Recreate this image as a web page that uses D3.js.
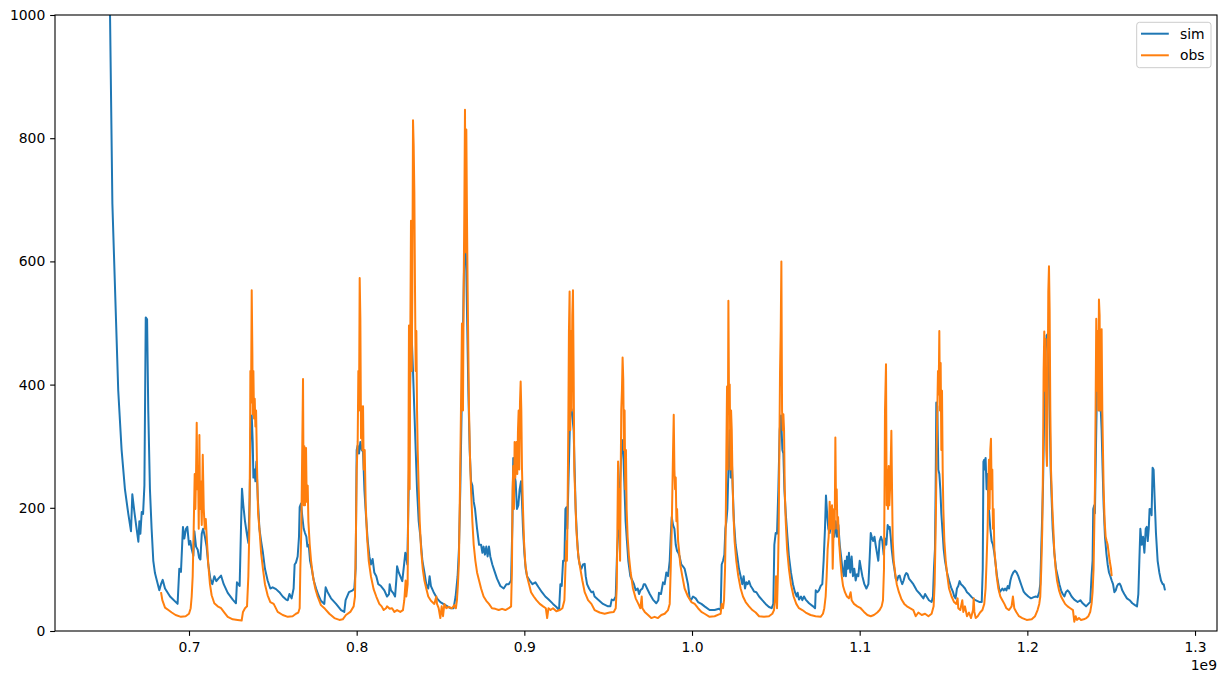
<!DOCTYPE html>
<html><head><meta charset="utf-8">
<script src="https://cdn.jsdelivr.net/npm/d3@7"></script>
<style>html,body{margin:0;padding:0;background:#fff;}svg{display:block;font-family:"DejaVu Sans",sans-serif;}</style>
</head><body><svg id="c" width="1227" height="683"></svg>
<script>
// time in units of 1e9 seconds, value
const sim = [
[0.6516,1300],[0.6529,1000],[0.6543,694],[0.6565,502],[0.6578,390],[0.6598,294],[0.6618,230],[0.6638,190],[0.6654,162],[0.6662,222],[0.6674,194],[0.6686,169],[0.6698,145],[0.6704,178],[0.6710,158],[0.6718,193],[0.6726,190],[0.6734,236],[0.6742,509],[0.6750,506],[0.6757,358],[0.6767,230],[0.6777,166],[0.6787,114],[0.6797,94],[0.6809,81],[0.6823,66],[0.6833,76],[0.6843,83],[0.6857,69],[0.6887,56],[0.6932,44],[0.6942,101],[0.6952,96],[0.6964,169],[0.6972,150],[0.6982,166],[0.6990,169],[0.7000,140],[0.7008,146],[0.7016,133],[0.7026,122],[0.7032,162],[0.7042,137],[0.7052,132],[0.7060,119],[0.7068,116],[0.7076,158],[0.7084,166],[0.7095,153],[0.7105,137],[0.7115,108],[0.7127,85],[0.7139,76],[0.7151,89],[0.7163,81],[0.7175,85],[0.7191,90],
[0.7207,76],[0.7231,62],[0.7261,51],[0.7280,45],[0.7286,79],[0.7294,76],[0.7302,73],[0.7310,166],[0.7316,231],[0.7324,204],[0.7334,178],[0.7346,156],[0.7354,143],[0.7362,217],[0.7368,326],[0.7374,350],[0.7380,307],[0.7384,249],[0.7390,262],[0.7396,243],[0.7402,275],[0.7410,217],[0.7420,166],[0.7430,146],[0.7441,127],[0.7453,101],[0.7469,82],[0.7485,69],[0.7499,71],[0.7519,68],[0.7539,63],[0.7559,56],[0.7579,51],[0.7589,50],[0.7599,60],[0.7612,53],[0.7624,69],[0.7630,108],[0.7638,111],[0.7648,121],[0.7656,153],[0.7660,201],[0.7668,207],[0.7676,185],[0.7684,166],[0.7692,159],[0.7700,153],[0.7706,137],[0.7714,140],[0.7722,114],[0.7732,101],[0.7744,82],[0.7758,69],[0.7772,58],[0.7787,49],[0.7807,44],[0.7815,71],[0.7827,63],[0.7847,53],[0.7877,44],[0.7907,34],[0.7926,31],[0.7934,50],[0.7954,63],[0.7976,66],[0.7986,69],[0.7994,101],[0.8000,294],[0.8006,301],[0.8014,288],[0.8022,307],[0.8030,294],[0.8038,291],[0.8046,230],[0.8056,185],[0.8066,146],[0.8076,121],[0.8085,108],[0.8095,117],[0.8105,95],[0.8117,89],[0.8129,76],[0.8145,73],[0.8165,66],[0.8181,56],
[0.8193,60],[0.8197,76],[0.8205,66],[0.8217,62],[0.8229,56],[0.8237,85],[0.8241,105],[0.8251,95],[0.8260,89],[0.8272,81],[0.8284,111],[0.8290,127],[0.8296,119],[0.8302,108],[0.8308,198],[0.8312,262],[0.8316,358],[0.8320,422],[0.8326,493],[0.8336,422],[0.8344,358],[0.8352,294],[0.8360,230],[0.8370,178],[0.8380,153],[0.8392,114],[0.8404,95],[0.8415,76],[0.8427,69],[0.8435,89],[0.8443,73],[0.8459,63],[0.8479,53],[0.8499,47],[0.8529,42],[0.8559,37],[0.8578,37],[0.8590,56],[0.8602,89],[0.8610,133],[0.8618,230],[0.8626,358],[0.8634,487],[0.8642,615],[0.8648,641],[0.8654,583],[0.8660,487],[0.8666,390],[0.8674,294],[0.8682,243],[0.8690,236],[0.8698,210],[0.8706,198],[0.8718,166],[0.8730,140],[0.8742,140],[0.8750,127],[0.8757,137],[0.8765,124],[0.8773,137],[0.8781,121],[0.8789,137],[0.8797,121],[0.8809,108],[0.8821,98],[0.8837,85],[0.8857,73],[0.8877,69],[0.8893,76],[0.8907,76],[0.8921,82],[0.8929,178],[0.8934,281],[0.8940,255],[0.8948,243],[0.8956,198],[0.8964,204],[0.8972,230],[0.8980,243],[0.8986,210],[0.8992,166],[0.9000,127],[0.9008,101],[0.9016,89],[0.9032,82],[0.9048,76],[0.9066,79],[0.9085,71],[0.9105,63],[0.9125,56],[0.9145,51],[0.9171,44],
[0.9191,39],[0.9207,34],[0.9215,76],[0.9223,73],[0.9231,114],[0.9239,114],[0.9245,198],[0.9251,201],[0.9256,166],[0.9262,230],[0.9268,294],[0.9274,358],[0.9282,360],[0.9294,326],[0.9300,262],[0.9306,198],[0.9314,153],[0.9322,121],[0.9330,108],[0.9340,101],[0.9350,108],[0.9360,109],[0.9366,89],[0.9374,76],[0.9386,69],[0.9400,63],[0.9410,64],[0.9419,56],[0.9439,51],[0.9469,44],[0.9499,40],[0.9513,40],[0.9521,51],[0.9533,50],[0.9545,56],[0.9553,127],[0.9561,166],[0.9569,230],[0.9576,275],[0.9582,307],[0.9588,310],[0.9596,243],[0.9604,178],[0.9612,146],[0.9620,114],[0.9632,89],[0.9644,82],[0.9654,76],[0.9664,66],[0.9676,69],[0.9684,60],[0.9692,66],[0.9704,69],[0.9712,76],[0.9720,76],[0.9732,69],[0.9748,60],[0.9767,51],[0.9787,45],[0.9799,50],[0.9803,62],[0.9815,60],[0.9827,79],[0.9837,76],[0.9847,95],[0.9857,89],[0.9867,114],[0.9873,153],[0.9879,185],[0.9887,172],[0.9895,166],[0.9903,140],[0.9911,130],[0.9918,127],[0.9926,121],[0.9936,108],[0.9946,105],[0.9956,101],[0.9966,89],[0.9976,76],[0.9986,53],[0.9996,51],[1.0006,56],[1.0022,53],[1.0036,47],[1.0056,44],[1.0075,40],[1.0105,34],[1.0135,34],[1.0161,36],
[1.0171,34],[1.0177,108],[1.0185,114],[1.0193,124],[1.0199,166],[1.0205,178],[1.0211,198],[1.0217,262],[1.0225,326],[1.0231,249],[1.0237,281],[1.0243,230],[1.0250,178],[1.0260,140],[1.0270,121],[1.0280,101],[1.0290,89],[1.0300,76],[1.0308,89],[1.0316,69],[1.0324,79],[1.0332,76],[1.0340,81],[1.0350,73],[1.0360,69],[1.0370,64],[1.0384,63],[1.0400,56],[1.0419,50],[1.0439,44],[1.0459,39],[1.0475,37],[1.0485,44],[1.0491,140],[1.0499,159],[1.0507,158],[1.0515,230],[1.0523,326],[1.0531,350],[1.0539,294],[1.0545,288],[1.0551,230],[1.0559,191],[1.0569,153],[1.0578,121],[1.0590,95],[1.0602,76],[1.0614,63],[1.0624,56],[1.0630,62],[1.0638,51],[1.0650,56],[1.0658,50],[1.0668,56],[1.0678,51],[1.0698,45],[1.0722,40],[1.0734,37],[1.0738,66],[1.0748,63],[1.0757,66],[1.0767,73],[1.0777,76],[1.0785,114],[1.0793,166],[1.0799,220],[1.0807,185],[1.0813,166],[1.0821,159],[1.0829,172],[1.0837,185],[1.0843,166],[1.0849,153],[1.0857,178],[1.0865,153],[1.0873,172],[1.0881,140],[1.0889,121],[1.0897,101],[1.0905,89],[1.0912,114],[1.0918,89],[1.0924,121],[1.0930,101],[1.0936,127],[1.0944,95],[1.0952,121],[1.0960,89],[1.0968,101],[1.0976,82],[1.0984,92],[1.0992,89],[1.1000,114],[1.1008,101],[1.1016,89],[1.1028,76],[1.1040,69],[1.1052,76],[1.1060,121],[1.1066,159],[1.1072,153],[1.1080,146],[1.1088,153],[1.1095,140],[1.1103,127],[1.1111,114],[1.1119,146],[1.1127,153],[1.1135,146],[1.1143,124],[1.1151,150],
[1.1159,140],[1.1167,172],[1.1173,166],[1.1179,169],[1.1185,153],[1.1191,133],[1.1199,114],[1.1207,101],[1.1215,85],[1.1223,82],[1.1231,89],[1.1238,90],[1.1246,82],[1.1254,76],[1.1262,82],[1.1270,90],[1.1278,94],[1.1286,92],[1.1294,85],[1.1306,81],[1.1320,76],[1.1340,66],[1.1360,60],[1.1380,53],[1.1390,60],[1.1399,56],[1.1413,50],[1.1429,47],[1.1437,56],[1.1443,101],[1.1449,133],[1.1453,230],[1.1457,371],[1.1463,365],[1.1469,262],[1.1475,255],[1.1481,230],[1.1487,191],[1.1493,166],[1.1501,133],[1.1509,114],[1.1521,95],[1.1533,82],[1.1545,71],[1.1557,63],[1.1564,56],[1.1572,53],[1.1580,69],[1.1588,73],[1.1596,81],[1.1604,76],[1.1616,73],[1.1628,69],[1.1640,63],[1.1652,60],[1.1668,55],[1.1684,51],[1.1700,49],[1.1716,47],[1.1728,47],[1.1734,101],[1.1738,275],[1.1743,278],[1.1747,262],[1.1751,281],[1.1757,230],[1.1761,255],[1.1771,198],[1.1779,166],[1.1787,146],[1.1795,140],[1.1803,127],[1.1811,108],[1.1819,89],[1.1827,76],[1.1835,63],[1.1843,66],[1.1851,69],[1.1859,66],[1.1867,69],[1.1875,66],[1.1883,73],[1.1891,69],[1.1899,82],[1.1906,89],[1.1916,95],[1.1926,98],[1.1936,95],[1.1946,89],[1.1956,81],[1.1966,73],[1.1978,64],[1.1990,60],[1.2006,56],[1.2022,53],[1.2038,55],[1.2050,56],[1.2061,55],[1.2071,63],[1.2077,76],[1.2085,153],[1.2093,230],[1.2101,358],[1.2109,454],[1.2115,480],[1.2121,482],[1.2127,442],[1.2133,358],[1.2139,262],
[1.2151,166],[1.2161,127],[1.2171,101],[1.2181,89],[1.2191,76],[1.2201,66],[1.2211,60],[1.2221,56],[1.2230,63],[1.2240,66],[1.2250,63],[1.2264,56],[1.2280,51],[1.2300,47],[1.2316,50],[1.2330,45],[1.2350,40],[1.2364,44],[1.2375,47],[1.2383,89],[1.2389,114],[1.2393,198],[1.2399,204],[1.2403,191],[1.2409,294],[1.2415,390],[1.2421,422],[1.2427,390],[1.2431,358],[1.2437,365],[1.2443,326],[1.2449,262],[1.2455,204],[1.2463,153],[1.2471,127],[1.2479,108],[1.2487,95],[1.2495,89],[1.2503,82],[1.2511,76],[1.2519,63],[1.2527,66],[1.2535,73],[1.2542,76],[1.2550,77],[1.2558,73],[1.2566,66],[1.2578,60],[1.2594,53],[1.2610,50],[1.2626,45],[1.2642,42],[1.2654,40],[1.2662,60],[1.2668,114],[1.2674,166],[1.2682,140],[1.2690,153],[1.2698,127],[1.2706,166],[1.2712,169],[1.2718,146],[1.2724,166],[1.2729,198],[1.2733,195],[1.2737,198],[1.2741,188],[1.2747,265],[1.2753,262],[1.2759,217],[1.2767,159],[1.2777,114],[1.2787,95],[1.2797,82],[1.2807,76],[1.2813,76],[1.2821,66]
];
const obs = [
[0.6833,63],[0.6841,50],[0.6857,38],[0.6877,34],[0.6897,30],[0.6920,26],[0.6952,23],[0.6980,24],[0.7000,28],[0.7010,37],[0.7016,56],[0.7022,89],[0.7028,166],[0.7034,255],[0.7038,198],[0.7042,255],[0.7046,338],[0.7050,230],[0.7054,268],[0.7058,166],[0.7062,318],[0.7066,198],[0.7070,243],[0.7076,172],[0.7082,286],[0.7088,198],[0.7094,166],[0.7100,182],[0.7107,146],[0.7115,108],[0.7125,76],[0.7135,58],[0.7151,45],[0.7171,40],[0.7191,37],
[0.7211,30],[0.7231,23],[0.7261,19],[0.7290,18],[0.7314,17],[0.7322,31],[0.7334,37],[0.7346,40],[0.7354,89],[0.7360,166],[0.7364,294],[0.7366,422],[0.7370,371],[0.7374,553],[0.7378,448],[0.7380,352],[0.7384,422],[0.7388,345],[0.7392,377],[0.7396,332],[0.7400,358],[0.7406,262],[0.7412,191],[0.7420,166],[0.7430,127],[0.7441,101],[0.7453,76],[0.7469,58],[0.7485,47],[0.7505,44],[0.7529,31],[0.7559,26],[0.7589,23],[0.7618,24],[0.7638,28],[0.7652,30],[0.7660,37],[0.7664,101],[0.7670,166],[0.7674,262],[0.7680,409],[0.7684,204],[0.7688,300],[0.7692,204],[0.7698,297],[0.7702,210],[0.7708,236],[0.7712,178],[0.7720,140],[0.7728,114],[0.7739,89],[0.7753,69],[0.7767,56],[0.7787,42],[0.7811,36],[0.7837,28],[0.7867,21],[0.7897,18],[0.7917,19],[0.7936,26],[0.7962,31],[0.7982,40],[0.7990,56],[0.7996,166],[0.8000,262],[0.8006,307],[0.8010,422],[0.8014,358],[0.8018,573],[0.8022,506],[0.8026,313],[0.8030,365],[0.8034,294],[0.8038,365],[0.8042,262],[0.8048,294],[0.8054,204],[0.8062,153],[0.8072,114],[0.8085,89],[0.8101,68],[0.8117,56],[0.8135,44],[0.8149,40],[0.8161,34],[0.8175,37],
[0.8181,40],[0.8197,36],[0.8211,37],[0.8225,31],[0.8241,34],[0.8260,31],[0.8276,34],[0.8284,50],[0.8292,82],[0.8296,56],[0.8304,76],[0.8308,230],[0.8312,496],[0.8316,230],[0.8320,487],[0.8324,666],[0.8328,422],[0.8332,551],[0.8336,829],[0.8340,788],[0.8344,711],[0.8348,551],[0.8352,422],[0.8356,487],[0.8360,358],[0.8364,294],[0.8370,230],[0.8376,178],[0.8384,133],[0.8394,101],[0.8404,82],[0.8415,69],[0.8427,56],[0.8443,49],[0.8463,44],[0.8475,56],[0.8479,44],[0.8489,37],[0.8499,21],[0.8507,40],[0.8515,24],[0.8523,44],[0.8535,37],[0.8549,39],[0.8569,37],[0.8582,42],[0.8592,37],[0.8598,50],[0.8604,76],[0.8610,114],[0.8616,230],[0.8622,358],[0.8628,499],[0.8634,358],[0.8638,551],[0.8642,679],[0.8646,846],[0.8650,615],[0.8654,814],[0.8658,666],[0.8662,551],[0.8666,454],[0.8670,358],[0.8676,281],[0.8682,230],[0.8690,178],[0.8698,140],[0.8708,114],[0.8718,95],[0.8730,82],[0.8742,69],[0.8757,56],[0.8773,49],[0.8789,44],[0.8807,37],[0.8827,36],[0.8847,34],[0.8867,36],[0.8887,34],[0.8907,37],[0.8921,40],[0.8926,101],[0.8930,230],[0.8934,268],[0.8938,198],[0.8942,307],[0.8946,249],[0.8950,281],[0.8954,307],[0.8958,255],[0.8962,326],[0.8966,358],[0.8970,262],[0.8974,371],[0.8978,405],[0.8982,358],[0.8986,262],[0.8992,198],[0.8998,146],[0.9006,108],[0.9016,89],[0.9028,76],[0.9040,63],[0.9056,56],[0.9072,50],[0.9092,44],[0.9112,40],[0.9128,37],[0.9136,21],[0.9144,37],[0.9156,34],[0.9171,37],
[0.9191,32],[0.9211,34],[0.9227,37],[0.9239,50],[0.9245,101],[0.9251,146],[0.9254,114],[0.9258,198],[0.9262,326],[0.9266,487],[0.9270,551],[0.9274,326],[0.9278,487],[0.9282,358],[0.9286,512],[0.9290,553],[0.9294,422],[0.9298,262],[0.9302,230],[0.9310,166],[0.9318,133],[0.9326,114],[0.9334,101],[0.9346,82],[0.9360,63],[0.9380,50],[0.9400,44],[0.9419,34],[0.9449,30],[0.9479,28],[0.9509,30],[0.9533,31],[0.9545,37],[0.9551,69],[0.9555,166],[0.9559,275],[0.9563,166],[0.9567,230],[0.9571,114],[0.9575,262],[0.9578,358],[0.9582,390],[0.9586,444],[0.9590,409],[0.9594,294],[0.9598,358],[0.9602,230],[0.9606,294],[0.9610,198],[0.9616,153],[0.9624,121],[0.9634,95],[0.9648,69],[0.9664,53],[0.9680,44],[0.9692,37],[0.9700,56],[0.9704,37],[0.9718,31],[0.9738,26],[0.9757,21],[0.9777,23],[0.9797,21],[0.9817,26],[0.9837,28],[0.9857,34],[0.9867,44],[0.9873,101],[0.9879,166],[0.9883,230],[0.9887,294],[0.9891,351],[0.9895,262],[0.9899,230],[0.9903,249],[0.9907,178],[0.9911,198],[0.9917,146],[0.9922,133],[0.9930,108],[0.9942,89],[0.9956,69],[0.9976,56],[0.9996,47],[1.0016,44],[1.0036,37],[1.0056,31],[1.0075,28],[1.0105,23],[1.0135,24],[1.0161,27],
[1.0171,28],[1.0177,44],[1.0185,37],[1.0191,50],[1.0197,101],[1.0201,166],[1.0205,294],[1.0209,397],[1.0213,262],[1.0217,536],[1.0221,358],[1.0225,400],[1.0229,262],[1.0233,358],[1.0237,326],[1.0241,255],[1.0246,198],[1.0254,146],[1.0264,114],[1.0276,89],[1.0290,69],[1.0304,56],[1.0320,47],[1.0340,40],[1.0360,34],[1.0380,30],[1.0400,24],[1.0429,23],[1.0459,24],[1.0479,28],[1.0489,34],[1.0495,50],[1.0501,89],[1.0507,37],[1.0513,101],[1.0517,166],[1.0521,294],[1.0525,422],[1.0529,487],[1.0533,600],[1.0537,358],[1.0541,326],[1.0545,352],[1.0549,326],[1.0553,230],[1.0559,178],[1.0567,133],[1.0578,101],[1.0590,76],[1.0606,56],[1.0622,44],[1.0638,37],[1.0658,34],[1.0678,30],[1.0707,26],[1.0737,24],[1.0767,23],[1.0781,28],[1.0789,37],[1.0797,56],[1.0803,89],[1.0809,133],[1.0815,153],[1.0821,210],[1.0827,166],[1.0831,198],[1.0835,204],[1.0839,101],[1.0843,146],[1.0847,198],[1.0851,166],[1.0855,314],[1.0859,198],[1.0863,230],[1.0867,166],[1.0871,185],[1.0877,146],[1.0885,114],[1.0893,89],[1.0901,73],[1.0912,63],[1.0924,56],[1.0936,53],[1.0946,63],[1.0952,50],[1.0966,44],[1.0986,40],[1.1006,37],[1.1026,31],[1.1046,26],[1.1066,24],[1.1085,26],[1.1105,30],[1.1119,34],[1.1131,40],[1.1139,50],[1.1145,101],[1.1149,262],
[1.1151,358],[1.1157,433],[1.1161,204],[1.1165,262],[1.1169,198],[1.1173,268],[1.1177,204],[1.1183,243],[1.1189,325],[1.1193,230],[1.1197,146],[1.1203,114],[1.1211,95],[1.1221,76],[1.1234,63],[1.1250,51],[1.1266,44],[1.1282,40],[1.1300,37],[1.1320,34],[1.1334,24],[1.1350,30],[1.1370,26],[1.1390,28],[1.1410,24],[1.1429,28],[1.1441,40],[1.1447,76],[1.1451,133],[1.1455,198],[1.1459,294],[1.1463,358],[1.1467,422],[1.1471,384],[1.1475,487],[1.1479,358],[1.1483,435],[1.1487,294],[1.1491,390],[1.1495,262],[1.1499,198],[1.1505,146],[1.1513,114],[1.1523,89],[1.1533,69],[1.1548,56],[1.1563,47],[1.1576,44],[1.1584,53],[1.1588,37],[1.1600,34],[1.1612,50],[1.1618,31],[1.1628,40],[1.1640,24],[1.1652,30],[1.1664,21],[1.1676,34],[1.1680,53],[1.1684,31],[1.1692,21],[1.1704,24],[1.1718,30],[1.1732,34],[1.1743,44],[1.1751,69],[1.1757,114],[1.1763,166],[1.1767,230],[1.1771,278],[1.1775,198],[1.1779,294],[1.1783,312],[1.1787,230],[1.1791,262],[1.1795,166],[1.1799,198],[1.1803,133],[1.1809,114],[1.1817,89],[1.1827,69],[1.1839,56],[1.1851,50],[1.1863,44],[1.1875,37],[1.1891,34],[1.1906,40],[1.1914,56],[1.1922,37],[1.1934,31],[1.1950,24],[1.1970,21],[1.1996,18],[1.2026,19],[1.2046,24],[1.2061,34],[1.2071,44],[1.2077,56],[1.2083,101],[1.2089,166],[1.2093,262],[1.2097,422],[1.2101,486],[1.2105,390],[1.2109,474],[1.2113,294],[1.2117,268],[1.2121,384],[1.2125,551],[1.2129,592],[1.2133,519],[1.2137,358],[1.2141,262],
[1.2145,230],[1.2149,200],[1.2155,166],[1.2161,127],[1.2169,101],[1.2177,82],[1.2189,66],[1.2201,56],[1.2213,50],[1.2225,44],[1.2240,40],[1.2256,37],[1.2272,34],[1.2280,15],[1.2288,24],[1.2296,18],[1.2308,21],[1.2320,18],[1.2336,19],[1.2352,21],[1.2364,24],[1.2375,31],[1.2383,44],[1.2389,63],[1.2395,101],[1.2399,166],[1.2403,230],[1.2407,358],[1.2411,507],[1.2415,390],[1.2419,487],[1.2423,358],[1.2427,538],[1.2431,512],[1.2435,358],[1.2439,487],[1.2443,490],[1.2447,358],[1.2451,294],[1.2455,230],[1.2461,178],[1.2467,153],[1.2473,146],[1.2479,140],[1.2485,127],[1.2491,114],[1.2499,101],[1.2503,89]
];
const seriesNames = ["sim", "obs"];
const seriesColors = ["#1f77b4", "#ff7f0e"];
const xTickValues = [0.7, 0.8, 0.9, 1.0, 1.1, 1.2, 1.3];
const yTickValues = [0, 200, 400, 600, 800, 1000];
const xOffsetLabel = "1e9";

const svg = d3.select("#c");
const L = 55, R = 1217, T = 15, B = 631;
const fs = 13.9;
const x = d3.scaleLinear().domain([0.62008, 1.31311]).range([L, R]);
const y = d3.scaleLinear().domain([0, 1000]).range([B, T]);

svg.append("defs").append("clipPath").attr("id", "clip")
  .append("rect").attr("x", L).attr("y", T).attr("width", R - L).attr("height", B - T);

const line = d3.line().x(d => x(d[0])).y(d => y(d[1]));
const plot = svg.append("g").attr("clip-path", "url(#clip)");
[sim, obs].forEach((s, i) => {
  plot.append("path").datum(s).attr("d", line)
    .attr("fill", "none").attr("stroke", seriesColors[i])
    .attr("stroke-width", 2).attr("stroke-linejoin", "round").attr("stroke-linecap", "butt");
});

const xAxis = svg.append("g").attr("transform", `translate(0,${B})`)
  .call(d3.axisBottom(x).tickValues(xTickValues).tickFormat(d3.format(".1f")).tickSize(4.86).tickPadding(6.6));
const yAxis = svg.append("g").attr("transform", `translate(${L},0)`)
  .call(d3.axisLeft(y).tickValues(yTickValues).tickFormat(d3.format("d")).tickSize(4.86).tickPadding(4.86));
[xAxis, yAxis].forEach(g => {
  g.select(".domain").remove();
  g.selectAll(".tick line").attr("stroke", "#000").attr("stroke-width", 1.1);
  g.selectAll(".tick text").attr("fill", "#000").style("font-size", fs + "px").style("font-family", "'DejaVu Sans', sans-serif");
});

svg.append("rect").attr("x", L).attr("y", T).attr("width", R - L).attr("height", B - T)
  .attr("fill", "none").attr("stroke", "#000").attr("stroke-width", 1.1);

svg.append("text").attr("x", R).attr("y", 670).attr("text-anchor", "end")
  .style("font-size", fs + "px").attr("fill", "#000").text(xOffsetLabel);

// legend
const lg = svg.append("g");
lg.append("rect").attr("x", 1136.7).attr("y", 22.3).attr("width", 74.3).attr("height", 45.4).attr("rx", 2.8)
  .attr("fill", "#fff").attr("fill-opacity", 0.8).attr("stroke", "#cccccc").attr("stroke-width", 1);
seriesNames.forEach((n, i) => {
  const yy = 33.7 + i * 21.6;
  lg.append("line").attr("x1", 1141).attr("x2", 1168.8).attr("y1", yy).attr("y2", yy)
    .attr("stroke", seriesColors[i]).attr("stroke-width", 2);
  lg.append("text").attr("x", 1180).attr("y", yy + 4.9).style("font-size", fs + "px").attr("fill", "#000").text(n);
});
</script></body></html>
